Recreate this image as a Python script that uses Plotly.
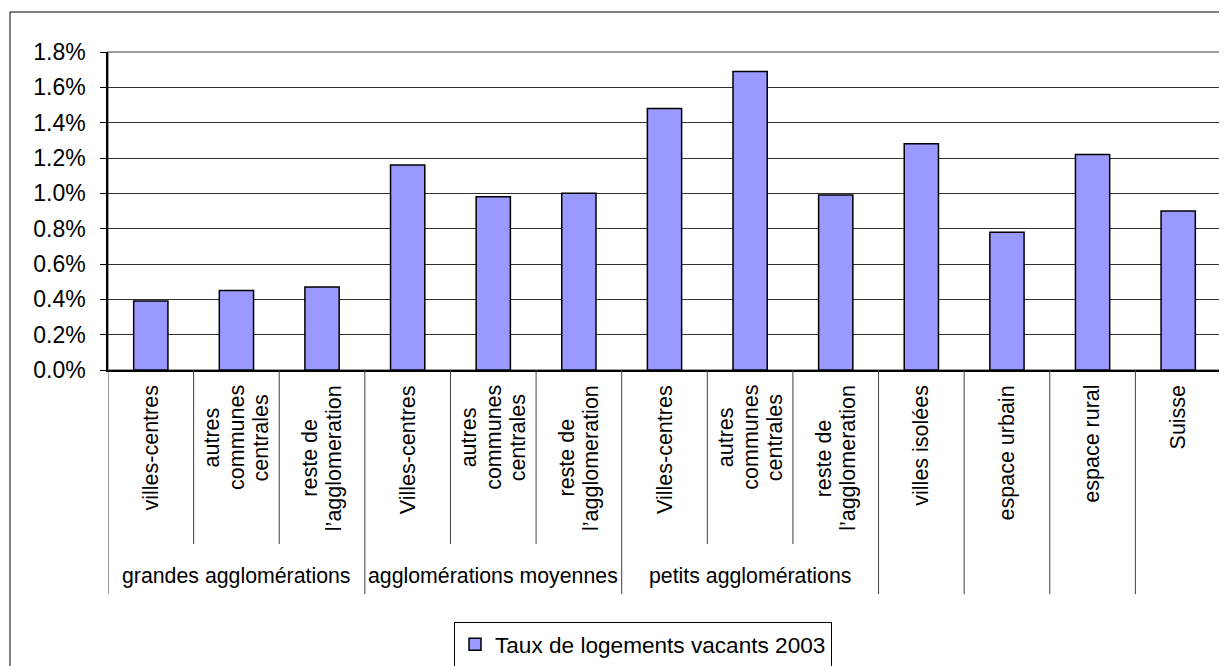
import plotly.graph_objects as go

# ---- data ----
groups = ["grandes agglomérations"] * 3 + ["agglomérations moyennes"] * 3 + \
         ["petits agglomérations"] * 3 + ["", "", "", ""]
categories = [
    "villes-centres", "autres<br>communes<br>centrales", "reste de<br>l’agglomeration",
    "Villes-centres", "autres<br>communes<br>centrales", "reste de<br>l’agglomeration",
    "Villes-centres", "autres<br>communes<br>centrales", "reste de<br>l’agglomeration",
    "villes isolées", "espace urbain", "espace rural", "Suisse",
]
values_pct = [0.39, 0.45, 0.47, 1.16, 0.98, 1.00, 1.48, 1.69, 0.99, 1.28, 0.78, 1.22, 0.90]
series_name = "Taux de logements vacants 2003"
y_ticks = [0.0, 0.002, 0.004, 0.006, 0.008, 0.010, 0.012, 0.014, 0.016, 0.018]

FONT = "Liberation Sans, Arial, sans-serif"
CAT_SIZE = 21.5
LINE_GAP = 24.5
OFF = 8                      # page body margin in the browser
W, H = 1227 - OFF, 666 - OFF
PLOT_L, PLOT_R, PLOT_T, PLOT_B = 108, 1221, 52, 370   # target (page) pixels
L = PLOT_L - OFF
R = W - (PLOT_R - OFF)
T = PLOT_T - OFF
B = H - (PLOT_B - OFF)
PH = PLOT_B - PLOT_T
PW = PLOT_R - PLOT_L

# Arial / Liberation Sans advance widths (per 1000 em) for label text
ADV = {"a": 556, "b": 556, "c": 500, "d": 556, "e": 556, "g": 556, "i": 222, "l": 222,
       "m": 833, "n": 556, "o": 556, "p": 556, "r": 333, "s": 500, "t": 278, "u": 556,
       "v": 500, "é": 556, "S": 667, "V": 667, "-": 333, " ": 278, "’": 222}


def text_len(s, size):
    return sum(ADV.get(ch, 556) for ch in s) * size / 1000


def py(pix):
    """page pixel y -> paper y"""
    return (PLOT_B - pix) / PH


def px(pix):
    return (pix - PLOT_L) / PW


n = len(categories)
xs = list(range(n))
values = [v / 100 for v in values_pct]

fig = go.Figure()
fig.add_trace(go.Bar(
    x=xs, y=values, name=series_name,
    marker=dict(color="#9999FF", line=dict(color="#000000", width=1.5)),
    showlegend=True,
))

shapes = []
# plot area frame (gray)
shapes.append(dict(type="rect", xref="paper", yref="paper", x0=0, x1=1, y0=0, y1=1,
                   line=dict(color="#808080", width=1.5), layer="below"))
# outer chart border
shapes.append(dict(type="rect", xref="paper", yref="paper", x0=px(10), x1=px(1260),
                   y0=py(12), y1=py(720), line=dict(color="#000000", width=1)))
# category dividers
for k in range(n + 1):
    left = groups[k - 1] if k - 1 >= 0 else None
    right = groups[k] if k < n else None
    inner = (left is not None and right is not None and left == right and left != "")
    y_end = py(544) if inner else py(594)
    shapes.append(dict(type="line", xref="x", yref="paper", x0=k - 0.5, x1=k - 0.5,
                       y0=0, y1=y_end, line=dict(color="#404040", width=1)))

annotations = []
TEXT_TOP = 385
for i, c in enumerate(categories):
    lines = c.split("<br>")
    m = len(lines)
    longest = max(text_len(s, CAT_SIZE) for s in lines)
    center_y = TEXT_TOP + longest / 2
    for j, s in enumerate(lines):
        annotations.append(dict(x=i, xref="x", y=py(center_y), yref="paper", text=s,
                                textangle=-90, xanchor="center", yanchor="middle",
                                xshift=(j - (m - 1) / 2) * LINE_GAP,
                                showarrow=False,
                                font=dict(family=FONT, size=CAT_SIZE, color="#000")))
# group labels
seen = []
for g in groups:
    if g and g not in seen:
        seen.append(g)
for g in seen:
    idx = [i for i, gg in enumerate(groups) if gg == g]
    annotations.append(dict(x=sum(idx) / len(idx), xref="x", y=py(576), yref="paper",
                            text=g, xanchor="center", yanchor="middle", showarrow=False,
                            font=dict(family=FONT, size=21.3, color="#000")))

fig.update_layout(
    width=W, height=H,
    margin=dict(l=L, r=R, t=T, b=B, autoexpand=False),
    paper_bgcolor="white", plot_bgcolor="white",
    font=dict(family=FONT, color="#000"),
    bargap=0.6,
    xaxis=dict(range=[-0.5, n - 0.5], showticklabels=False, ticks="", showgrid=False,
               zeroline=False, showline=True, linecolor="#000", linewidth=1.5),
    yaxis=dict(range=[0, 0.018], tickvals=y_ticks, tickformat=".1%", ticks="outside",
               ticklen=6, tickcolor="#000", showgrid=True, gridcolor="#303030", gridwidth=1,
               zeroline=False, showline=True, linecolor="#000", linewidth=1.5,
               tickfont=dict(family=FONT, size=23, color="#000"), ticklabelstandoff=10),
    legend=dict(orientation="h", x=px(643), xanchor="center", y=py(622), yanchor="top",
                bordercolor="#000", borderwidth=1, bgcolor="white", itemwidth=30,
                font=dict(family=FONT, size=22.6, color="#000")),
    shapes=shapes, annotations=annotations,
)

fig.write_html("out.html")
